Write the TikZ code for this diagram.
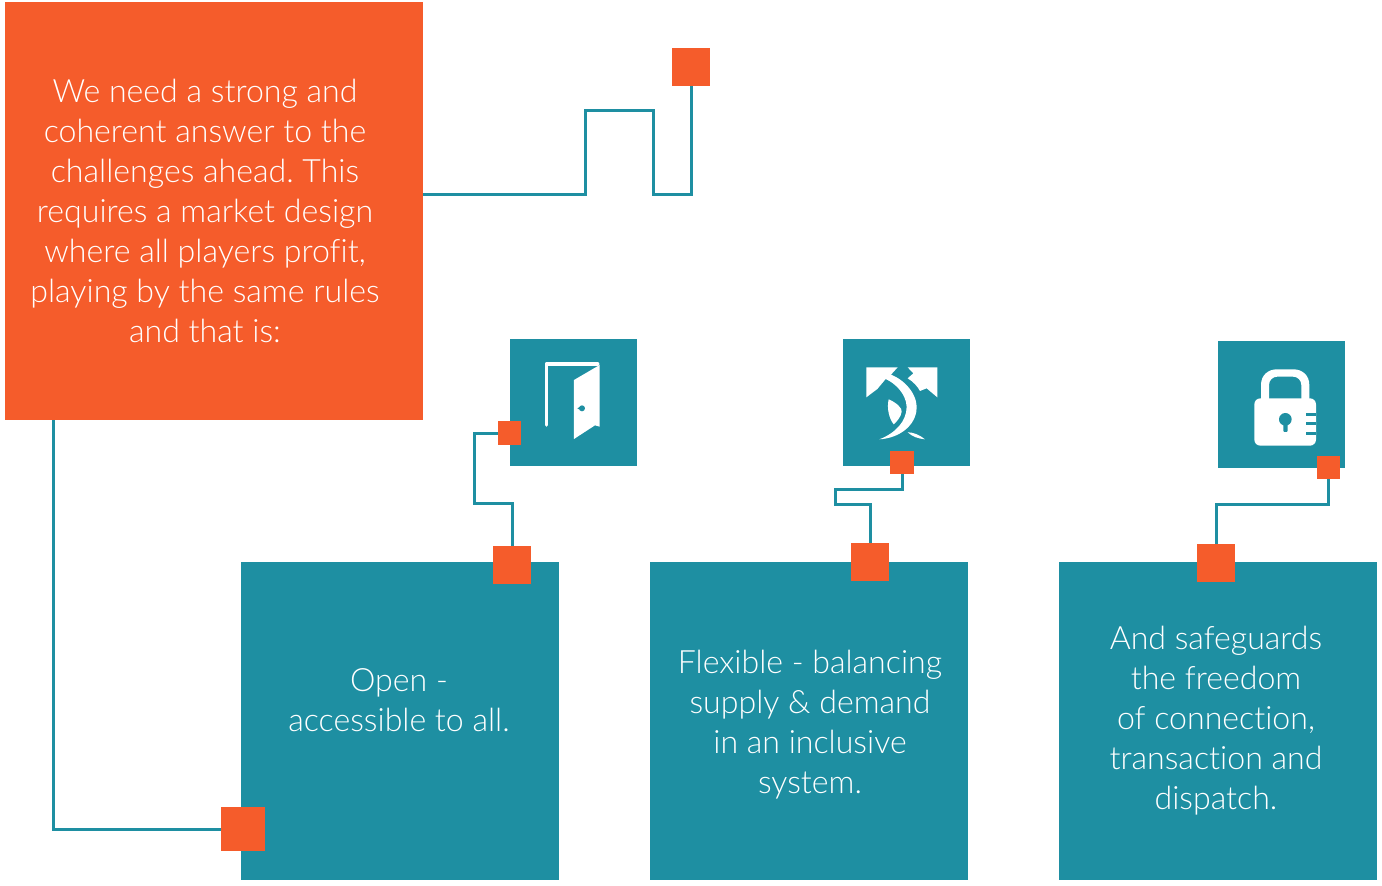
\documentclass[tikz,border=0pt]{standalone}
\usepackage{fontspec}
\setmainfont{Lato}[UprightFont=* Light, Ligatures=NoCommon]
\definecolor{teal1}{HTML}{1E8FA2}
\definecolor{orange1}{HTML}{F55C2B}
\tikzset{
	box/.style={fill=teal1, minimum size=318pt, inner sep=0pt},
	leadbox/.style={fill=orange1, minimum size=418pt, inner sep=0pt},
	iconbox/.style={fill=teal1, minimum size=127pt, inner sep=0pt},
	dot/.style={fill=orange1, minimum size=#1, inner sep=0pt},
	wire/.style={draw=teal1, line width=3pt},
	words/.style={text=white, align=center, inner sep=0pt, font=\frenchspacing\fontsize{32.1}{40}\selectfont},
	glyph/.style={fill=white, draw=none}
}
\begin{document}
\begin{tikzpicture}[x=1pt, y=-1pt]
	\def\boxtop{721}
	\def\smalldot{23.5pt}
	\def\bigdot{38pt}

	\useasboundingbox (0,0) rectangle (1382,886);

	% Boxes
	\node[leadbox] (lead) at (214,211) {};
	\node[box] (open) at (400,\boxtop) {};
	\node[box] (flexible) at (809,\boxtop) {};
	\node[box] (freedom) at (1218,\boxtop) {};
	\node[iconbox] (door) at (573.5,402.5) {};
	\node[iconbox] (arrows) at (906.5,402.5) {};
	\node[iconbox] (lock) at (1281.5,404.5) {};

	% Texts
	\node[words] (leadtext) at (205,211) {We need a strong and\\coherent answer to the\\challenges ahead. This\\requires a market design\\where all players profit,\\playing by the same rules\\and that is:};
	\node[words] (opentext) at (399,700) {Open -\\accessible to all.};
	\node[words] (flexibletext) at (810,724.5) {Flexible - balancing\\supply \& demand\\in an inclusive\\system.};
	\node[words] (freedomtext) at (1216,720.5) {And safeguards\\the freedom\\of connection,\\transaction and\\dispatch.};

	% Door
	\begin{scope}[shift={(490,330)}, x=0.3333pt, y=-0.3333pt]
		\draw[white, line width=3.6pt, line cap=round, line join=round] (169,285) -- (169,102) -- (323,102);
		\fill[glyph] (252,150) -- (329,105) -- (329,290) -- (315,286) -- (252,327) -- cycle;
		\fill[teal1] (276,235) circle (9) (262,235) -- (276,227) -- (276,243) -- cycle;
	\end{scope}

	% Arrows
	\begin{scope}[shift={(825,330)}, x=0.3333pt, y=-0.3333pt]
		\fill[glyph] (124,112) -- (218,112) -- (198,134) .. controls (250,155) and (282,205) .. (274,245) .. controls (265,295) and (215,325) .. (163,328) .. controls (210,310) and (245,275) .. (245,230) .. controls (243,190) and (210,160) .. (182,147) -- (157,177) -- (124,202) -- cycle;
		\fill[glyph] (248,112) -- (337,112) -- (337,202) -- (305,175) -- (285,183) .. controls (278,170) and (265,155) .. (248,145) -- (265,130) -- cycle;
		\fill[glyph] (191,208) .. controls (215,218) and (232,235) .. (230,245) .. controls (228,260) and (218,272) .. (206,283) .. controls (192,265) and (185,235) .. (191,208) -- cycle;
		\fill[glyph] (248,307) .. controls (262,306) and (285,315) .. (300,328) .. controls (280,326) and (262,320) .. (248,307) -- cycle;
	\end{scope}

	% Lock
	\begin{scope}[shift={(1200,330)}, x=0.3333pt, y=-0.3333pt]
		\fill[glyph] (183,210) -- (183,165) .. controls (183,135) and (205,118) .. (230,118) -- (281,118) .. controls (306,118) and (328,135) .. (328,165) -- (328,210) -- (304,210) -- (304,165) .. controls (304,150) and (292,140) .. (279,140) -- (232,140) .. controls (219,140) and (207,150) .. (207,165) -- (207,210) -- cycle;
		\fill[glyph, rounded corners=6pt] (163,205) rectangle (348,347);
		\fill[teal1] (256,268) circle (19);
		\fill[teal1, rounded corners=1pt] (250,270) rectangle (263,306);
		\foreach \notch in {248,275,306} {
			\fill[teal1] (318,\notch) rectangle (349,\notch+10);
		}
	\end{scope}

	% Orange squares
	\node[dot=\bigdot] (leaddot) at (691,67) {};
	\node[dot=44pt] (opendotin) at (243,829) {};
	\node[dot=\bigdot] (opendot) at (512,565) {};
	\node[dot=\bigdot] (flexibledot) at (870,562) {};
	\node[dot=\bigdot] (freedomdot) at (1216,563) {};
	\node[dot=\smalldot] (doordot) at (509.5,433) {};
	\node[dot=\smalldot] (arrowsdot) at (902,462.5) {};
	\node[dot=\smalldot] (lockdot) at (1328.5,467.5) {};

	% Wires
	\coordinate (leadright) at (423,194.5);
	\coordinate (leaddown) at (53.5,420);
	\draw[wire] (leadright) -- (585.5,194.5) -- (585.5,110.5) -- (653.5,110.5) -- (653.5,194.5) -- (691,194.5) -- (leaddot.south);
	\draw[wire] (leaddown) -- (53.5,829) -- (opendotin.west);
	\draw[wire] (opendot.north) -- (512,503) -- (474.5,503) -- (474.5,433) -- (doordot.west);
	\draw[wire] (flexibledot.north) -- (870,504) -- (835,504) -- (835,489) -- (902,489) -- (arrowsdot.south);
	\draw[wire] (freedomdot.north) -- (1216,504.5) -- (1328.5,504.5) -- (lockdot.south);
\end{tikzpicture}
\end{document}
